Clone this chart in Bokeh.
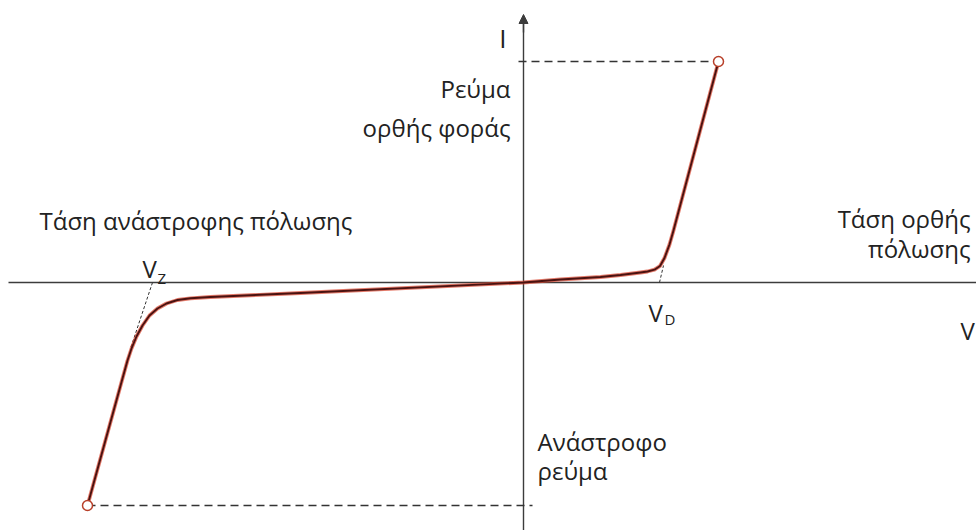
from bokeh.plotting import figure
from bokeh.models import Range1d, Label, Arrow, NormalHead
from bokeh.embed import file_html
from bokeh.resources import INLINE

# ---- data (arbitrary units, origin at the axis crossing) ----
reverse_v = [-436, -401, -396, -392, -387, -381, -374, -366, -357, -346, -333, -313, -223, 0]
reverse_i = [-223, -96, -78, -66, -54, -43, -33, -26, -21, -17.5, -15.8, -14.5, -10.5, 0]
forward_v = [37, 77, 97, 117, 124, 131, 136.5, 141, 146, 150, 195]
forward_i = [3, 5.5, 7.5, 10, 11, 12.8, 16.5, 24.5, 38, 52, 221]

V_Z = -371
V_D = 136
vz_tangent_v = [V_Z, -393]
vz_tangent_i = [0, -66]
vd_tangent_v = [V_D, 140]
vd_tangent_i = [0, 17]

I_max = forward_i[-1]
V_max = forward_v[-1]
I_min = reverse_i[0]
V_min = reverse_v[0]

axis_labels = ["I", "V"]
labels_forward_i = ["Ρεύμα", "ορθής φοράς"]
label_reverse_v = "Τάση ανάστροφης πόλωσης"
labels_forward_v = ["Τάση ορθής", "πόλωσης"]
labels_reverse_i = ["Ανάστροφο", "ρεύμα"]

FONT = "Open Sans"
TXT = "#222222"
AX = "#3c3c3c"

p = figure(width=976, height=530, x_range=Range1d(-523, 453), y_range=Range1d(-248, 282),
           output_backend="svg", toolbar_location=None,
           x_axis_location=None, y_axis_location=None, min_border=0)
p.grid.visible = False
p.outline_line_color = None
p.background_fill_color = "white"

# axes
p.line([-515, 460], [0, 0], line_color=AX, line_width=1.7)
p.line([0, 0], [-260, 262], line_color=AX, line_width=1.4)
p.add_layout(Arrow(end=NormalHead(size=9, fill_color=AX, line_color=AX), x_start=0, y_start=250,
                   x_end=0, y_end=268, line_color=AX, line_width=1.4))

# dashed guide lines
p.line([-5, V_max], [I_max, I_max], line_color="#333333", line_width=1.5, line_dash="8 5")
p.line([V_min, 9], [I_min, I_min], line_color="#333333", line_width=1.5, line_dash="8 5")
p.line(vz_tangent_v, vz_tangent_i, line_color="#333333", line_width=1, line_dash="3 2")
p.line(vd_tangent_v, vd_tangent_i, line_color="#333333", line_width=1, line_dash="3 2")

# characteristic curve
cv = reverse_v + forward_v
ci = reverse_i + forward_i
p.line(cv, ci, line_color="#d9432c", line_width=3.8, line_alpha=0.7, line_join="round")
p.line(cv, ci, line_color="#4a1210", line_width=1.9, line_join="round")

p.scatter([V_max, V_min], [I_max, I_min], size=10, marker="circle", fill_color="white",
          line_color="#b8402a", line_width=1.5)


def lab(x, y, t, size=24, align="left"):
    p.add_layout(Label(x=x, y=y, text=t, text_font=FONT, text_font_size=f"{size}px",
                       text_color=TXT, text_align=align, text_baseline="alphabetic"))


lab(-17, 245, axis_labels[0], 26, "right")
lab(-13, 194, labels_forward_i[0], 24, "right")
lab(-13, 155, labels_forward_i[1], 24, "right")
lab(-484, 62, label_reverse_v, 24)
lab(-381, 14, "V", 24)
lab(-366, 5, "Z", 15)
lab(447, 64, labels_forward_v[0], 24, "right")
lab(447, 34, labels_forward_v[1], 24, "right")
lab(125, -30, "V", 24)
lab(141, -36, "D", 15)
lab(437, -48, axis_labels[1], 24)
lab(14, -159, labels_reverse_i[0], 24)
lab(14, -188, labels_reverse_i[1], 24)

open("out.html", "w").write(file_html(p, INLINE))
